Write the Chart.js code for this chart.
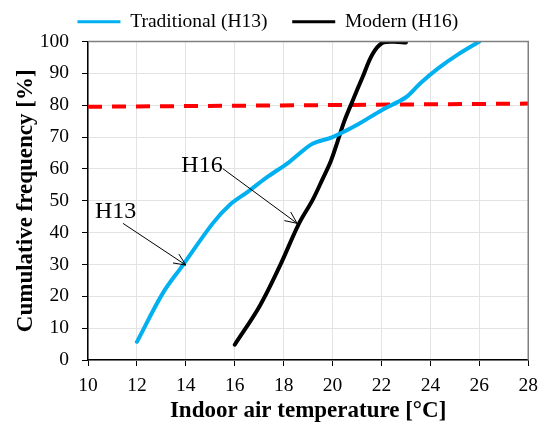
<!DOCTYPE html>
<html>
<head>
<meta charset="utf-8">
<script src="https://cdn.jsdelivr.net/npm/chart.js@4.4.1/dist/chart.umd.min.js"></script>
<style>
  html, body { margin: 0; padding: 0; background: #fff; }
  #chart { display: block; }
</style>
</head>
<body>
<canvas id="chart" width="546" height="425"></canvas>
<script>
// values
const tradTemp = [12, 13.06, 13.88, 15.1, 15.78, 16.53, 17.28, 18.2, 18.64, 19.18, 20.0, 20.95, 22.04, 23.0, 23.6, 24.3, 25.1, 26.0];
const tradFreq = [5.7, 21.0, 29.8, 42.9, 48.6, 52.8, 57.2, 62.0, 64.8, 67.9, 70.0, 73.6, 78.6, 82.5, 87.0, 91.5, 95.8, 100];
const modTemp = [16.0, 17.01, 17.83, 18.63, 19.18, 19.59, 19.93, 20.2, 20.48, 20.82, 21.22, 21.63, 22.04, 22.5, 23.0];
const modFreq = [4.8, 16.8, 29.3, 42.9, 50.2, 56.8, 62.5, 68.5, 75.0, 81.4, 88.7, 96.0, 99.6, 99.9, 99.7];
const limitTemp = [10, 28];
const limitFreq = [79.5, 80.5];
const xTicks = [10, 12, 14, 16, 18, 20, 22, 24, 26, 28];
const yTicks = [0, 10, 20, 30, 40, 50, 60, 70, 80, 90, 100];
const seriesNames = ['Traditional (H13)', 'Modern (H16)'];

// labels with arrows, in data units
const notes = [
  { text: 'H13', x: 11.13, y: 46.6, fromX: 11.43, fromY: 42.9, toX: 14.0, toY: 29.8 },
  { text: 'H16', x: 14.66, y: 61.0, fromX: 15.51, fromY: 60.1, toX: 18.55, toY: 42.9 }
];

const serif = '"Liberation Serif", "Times New Roman", serif';

function pts(xs, ys) {
  return xs.map((x, i) => ({ x: x, y: ys[i] }));
}

const notesPlugin = {
  id: 'notes',
  afterDatasetsDraw(chart) {
    const ctx = chart.ctx;
    const xs = chart.scales.x, ys = chart.scales.y;
    ctx.save();
    ctx.fillStyle = '#000';
    ctx.strokeStyle = '#000';
    ctx.lineWidth = 1;
    ctx.font = '24px ' + serif;
    ctx.textAlign = 'center';
    ctx.textBaseline = 'middle';
    notes.forEach(n => {
      ctx.fillText(n.text, xs.getPixelForValue(n.x), ys.getPixelForValue(n.y));
      const x1 = xs.getPixelForValue(n.fromX), y1 = ys.getPixelForValue(n.fromY);
      const x2 = xs.getPixelForValue(n.toX), y2 = ys.getPixelForValue(n.toY);
      ctx.beginPath();
      ctx.moveTo(x1, y1);
      ctx.lineTo(x2, y2);
      const a = Math.atan2(y2 - y1, x2 - x1);
      const len = 13, spread = 0.42;
      ctx.moveTo(x2 - len * Math.cos(a - spread), y2 - len * Math.sin(a - spread));
      ctx.lineTo(x2, y2);
      ctx.lineTo(x2 - len * Math.cos(a + spread), y2 - len * Math.sin(a + spread));
      ctx.stroke();
    });
    ctx.restore();
  },
  afterDraw(chart) {
    // grey frame on top and right like the original plot area
    const { left, right, top, bottom } = chart.chartArea;
    const ctx = chart.ctx;
    ctx.save();
    ctx.strokeStyle = '#808080';
    ctx.lineWidth = 1.5;
    ctx.beginPath();
    ctx.moveTo(left, top);
    ctx.lineTo(right, top);
    ctx.lineTo(right, bottom);
    ctx.stroke();
    ctx.restore();
  }
};

new Chart(document.getElementById('chart'), {
  type: 'line',
  data: {
    datasets: [
      {
        label: seriesNames[0],
        data: pts(tradTemp, tradFreq),
        borderColor: '#00b0f0',
        backgroundColor: '#00b0f0',
        borderWidth: 4,
        pointRadius: 0,
        tension: 0.35,
        borderCapStyle: 'round'
      },
      {
        label: seriesNames[1],
        data: pts(modTemp, modFreq),
        borderColor: '#000000',
        backgroundColor: '#000000',
        borderWidth: 4,
        pointRadius: 0,
        tension: 0.35,
        borderCapStyle: 'round'
      },
      {
        label: '',
        data: pts(limitTemp, limitFreq),
        borderColor: '#ff0000',
        backgroundColor: '#ff0000',
        borderWidth: 4,
        borderDash: [14, 10],
        pointRadius: 0
      }
    ]
  },
  options: {
    responsive: false,
    animation: false,
    devicePixelRatio: 1,
    layout: { padding: { top: 2, right: 17, left: 6.6, bottom: 0 } },
    plugins: {
      tooltip: { enabled: false },
      legend: {
        position: 'top',
        labels: {
          boxWidth: 43,
          boxHeight: 3,
          padding: 10,
          color: '#000',
          font: { family: serif, size: 19.5 },
          filter: item => item.text !== '',
          generateLabels(chart) {
            // wider gap after the first entry, as in the original legend
            return Chart.defaults.plugins.legend.labels.generateLabels(chart)
              .map(l => Object.assign(l, {
                lineWidth: 0,
                text: l.datasetIndex === 0 ? l.text + '\u00a0\u00a0\u00a0' : l.text
              }));
          }
        }
      }
    },
    scales: {
      x: {
        type: 'linear',
        min: 10,
        max: 28,
        afterBuildTicks: s => { s.ticks = xTicks.map(v => ({ value: v })); },
        afterFit: s => { s.height = 65; },
        ticks: { color: '#000', padding: 8, font: { family: serif, size: 19.5 } },
        grid: { color: '#e3e3e3', tickColor: '#000', tickLength: 6, lineWidth: 1 },
        border: { color: '#000', width: 1.5 },
        title: {
          display: true,
          text: 'Indoor air temperature [°C]',
          color: '#000',
          font: { family: serif, size: 23, weight: 'bold' },
          padding: { top: 0, bottom: 0 }
        }
      },
      y: {
        min: 0,
        max: 100,
        afterBuildTicks: s => { s.ticks = yTicks.map(v => ({ value: v })); },
        afterFit: s => { s.width = 81.4; },
        ticks: { color: '#000', padding: 13, font: { family: serif, size: 19.5 } },
        grid: { color: '#e3e3e3', tickColor: '#000', tickLength: 6, lineWidth: 1 },
        border: { color: '#000', width: 1.5 },
        title: {
          display: true,
          text: 'Cumulative frequency [%]',
          color: '#000',
          font: { family: serif, size: 23, weight: 'bold' },
          padding: { top: 5.5, bottom: 0 }
        }
      }
    }
  },
  plugins: [notesPlugin]
});
</script>
</body>
</html>
